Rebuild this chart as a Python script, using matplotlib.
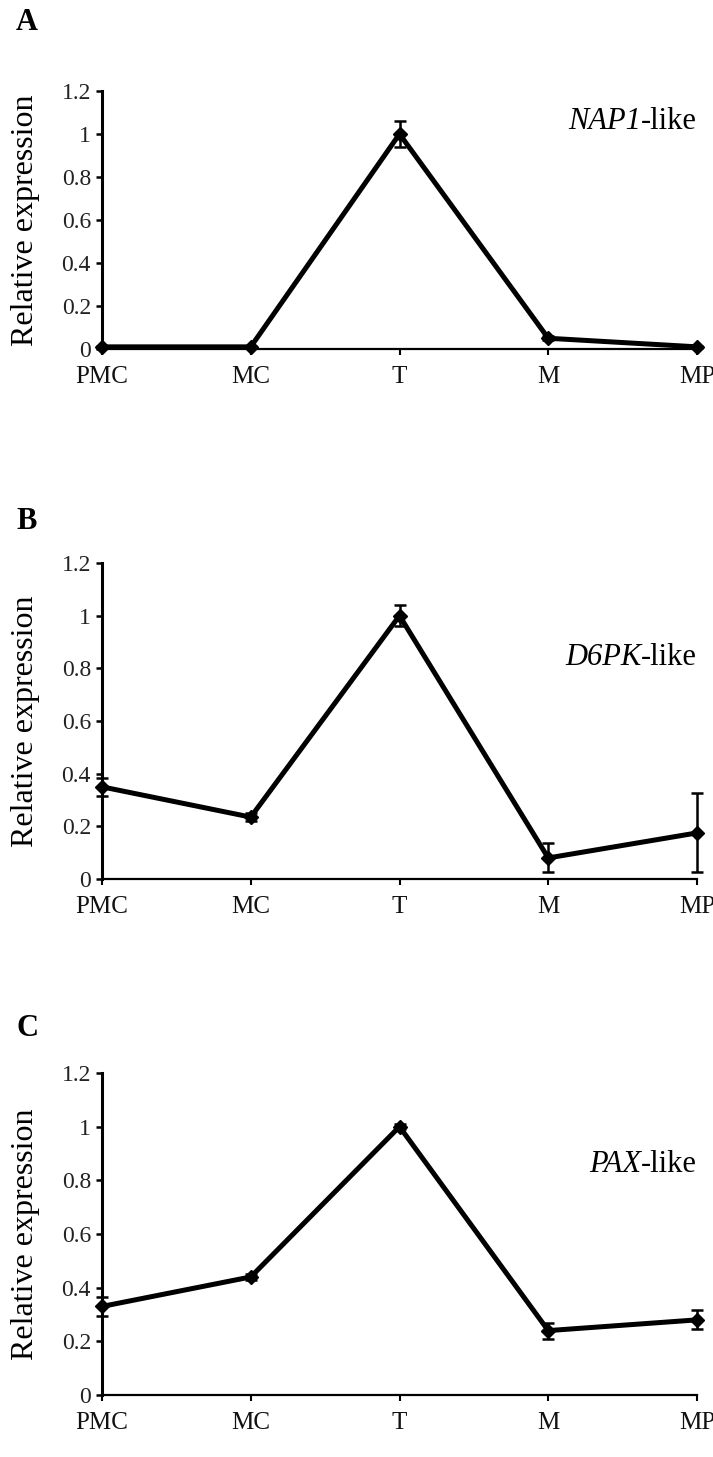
import matplotlib
matplotlib.use("Agg")
import matplotlib.pyplot as plt

# ---- data ----
stages = ["PMC", "MC", "T", "M", "MP"]
yticks = [0, 0.2, 0.4, 0.6, 0.8, 1.0, 1.2]
ytick_labels = ["0", "0.2", "0.4", "0.6", "0.8", "1", "1.2"]

nap1_vals = [0.01, 0.01, 1.00, 0.05, 0.01]
nap1_err = [0.005, 0.005, 0.06, 0.01, 0.005]

d6pk_vals = [0.35, 0.235, 1.00, 0.08, 0.175]
d6pk_err = [0.035, 0.015, 0.04, 0.055, 0.15]

pax_vals = [0.33, 0.44, 1.00, 0.24, 0.28]
pax_err = [0.035, 0.01, 0.01, 0.03, 0.035]

panel_letters = ["A", "B", "C"]
gene_names = ["NAP1", "D6PK", "PAX"]

# ---- layout (pixels) ----
W, H = 713, 1457
DPI = 100
plt.rcParams['font.family'] = ['Liberation Serif', 'DejaVu Serif']

fig = plt.figure(figsize=(W / DPI, H / DPI), dpi=DPI)

# (top px of 1.2, bottom px of 0, letter y px, annotation y in data)
panels = [
    (91, 349, 22, 1.06),
    (563, 879, 522, 0.84),
    (1073, 1395, 1028, 0.86),
]
x_left, x_right = 102, 697

datasets = [(nap1_vals, nap1_err), (d6pk_vals, d6pk_err), (pax_vals, pax_err)]

for (top, bot, letter_y, ann_y), (vals, errs), letter, gene in zip(panels, datasets, panel_letters, gene_names):
    ax = fig.add_axes([x_left / W, (H - bot) / H, (x_right - x_left) / W, (bot - top) / H])
    xs = list(range(len(stages)))
    ax.errorbar(xs, vals, yerr=errs, color='black', lw=3.6, marker='D', ms=7.5,
                ecolor='black', elinewidth=1.8, capsize=4, capthick=1.8, clip_on=False, zorder=3)
    ax.set_xlim(0, 4)
    ax.set_ylim(0, 1.2)
    ax.set_yticks(yticks)
    ax.set_yticklabels(ytick_labels, fontsize=17, color='#222222')
    ax.set_xticks(xs)
    ax.set_xticklabels(stages, fontsize=18, color='#111111')
    for s in ['top', 'right']:
        ax.spines[s].set_visible(False)
    ax.spines['left'].set_linewidth(2.2)
    ax.spines['bottom'].set_linewidth(1.6)
    ax.tick_params(axis='y', direction='out', length=4, width=1.8, pad=4)
    ax.tick_params(axis='x', direction='out', length=4, width=1.5, pad=8)
    ax.set_ylabel("Relative expression", fontsize=23)
    ax.yaxis.set_label_coords(-(x_left - 40) / (x_right - x_left), 0.5)
    t_like = ax.text(4.0, ann_y, "-like", ha='right', va='center', fontsize=22)
    ax.annotate(gene, xy=(0, 0), xycoords=t_like, ha='right', va='bottom',
                fontsize=22, style='italic')
    fig.text(16 / W, 1 - letter_y / H, letter, fontsize=22, fontweight='bold', ha='left', va='center')

fig.savefig("out.png", dpi=DPI)
